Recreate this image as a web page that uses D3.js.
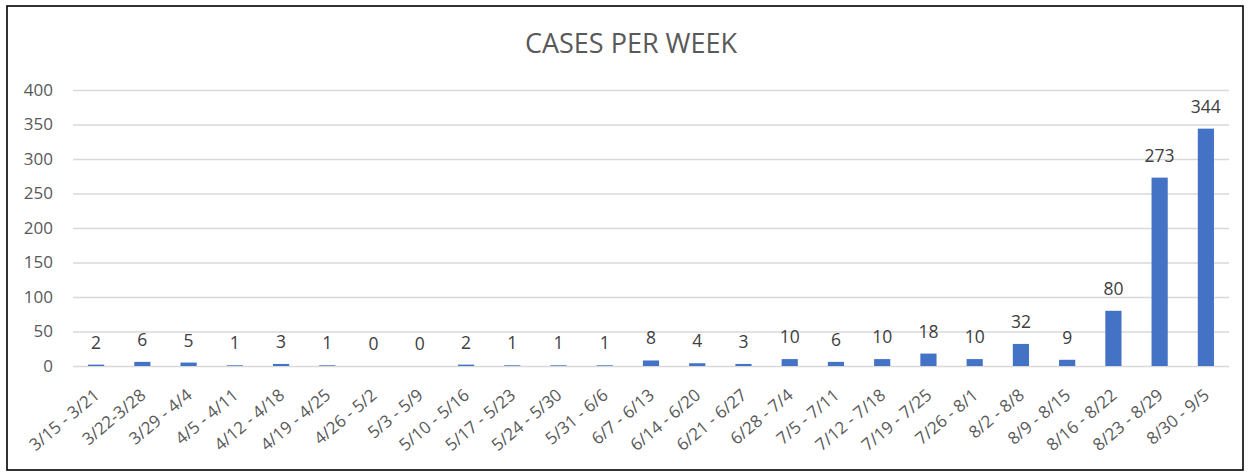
<!DOCTYPE html>
<html><head><meta charset="utf-8">
<script src="https://cdn.jsdelivr.net/npm/d3@7"></script>
<style>body{margin:0;background:#fff;} svg{display:block;}</style>
</head><body>
<svg id="chart" width="1250" height="475"></svg>
<script>
const categories = ["3/15 - 3/21","3/22-3/28","3/29 - 4/4","4/5 - 4/11","4/12 - 4/18","4/19 - 4/25","4/26 - 5/2","5/3 - 5/9","5/10 - 5/16","5/17 - 5/23","5/24 - 5/30","5/31 - 6/6","6/7 - 6/13","6/14 - 6/20","6/21 - 6/27","6/28 - 7/4","7/5 - 7/11","7/12 - 7/18","7/19 - 7/25","7/26 - 8/1","8/2 - 8/8","8/9 - 8/15","8/16 - 8/22","8/23 - 8/29","8/30 - 9/5"];
const cases = [2,6,5,1,3,1,0,0,2,1,1,1,8,4,3,10,6,10,18,10,32,9,80,273,344];
const yTicks = [0,50,100,150,200,250,300,350,400];
const title = "CASES PER WEEK";

const svg = d3.select("#chart");
svg.append("rect").attr("x",7).attr("y",6).attr("width",1236).attr("height",464)
  .attr("fill","#fff").attr("stroke","#000").attr("stroke-width",1.6);

const m = {left:73, right:1229, top:90, bottom:366};
const x = d3.scaleBand().domain(categories).range([m.left, m.right]).paddingInner(0.65).paddingOuter(0.325);
const y = d3.scaleLinear().domain([0,400]).range([m.bottom, m.top]);
const font = "Open Sans, Noto Sans, sans-serif";

svg.append("text").attr("x",631).attr("y",53).attr("text-anchor","middle")
  .attr("font-family",font).attr("font-size",27).attr("fill","#595959").text(title);

const yAxis = d3.axisLeft(y).tickValues(yTicks).tickSize(-(m.right-m.left)).tickPadding(20);
const gy = svg.append("g").attr("transform",`translate(${m.left},0)`).call(yAxis);
gy.select(".domain").remove();
gy.selectAll(".tick line").attr("stroke","#d9d9d9").attr("stroke-width",1.3);
gy.selectAll(".tick text").attr("font-family",font).attr("font-size",17).attr("fill","#595959");

const xAxis = d3.axisBottom(x).tickSize(0).tickPadding(0);
const gx = svg.append("g").attr("transform",`translate(0,${m.bottom})`).call(xAxis);
gx.select(".domain").remove();
gx.selectAll(".tick text").attr("font-family",font).attr("font-size",17).attr("fill","#595959")
  .attr("text-anchor","end").attr("dy",0).attr("y",0)
  .attr("transform","translate(4.5,31) rotate(-40)");

svg.append("g").selectAll("rect").data(cases).join("rect")
  .attr("x",(d,i)=>x(categories[i])).attr("width",x.bandwidth())
  .attr("y",d=>y(d)).attr("height",d=>m.bottom - y(d))
  .attr("fill","#4472c4");

svg.append("g").selectAll("text").data(cases).join("text")
  .attr("x",(d,i)=>x(categories[i]) + x.bandwidth()/2)
  .attr("y",d=>y(d) - 16)
  .attr("text-anchor","middle").attr("font-family",font).attr("font-size",17.5).attr("fill","#404040")
  .text(d=>d);
</script>
</body></html>
